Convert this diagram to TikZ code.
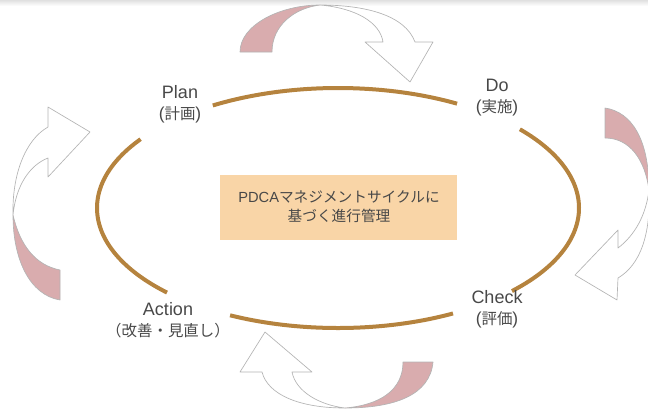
\documentclass[tikz,border=0pt]{standalone}
\usepackage{fontspec}
\setmainfont{Noto Sans CJK JP}
\newfontfamily\latf{Liberation Sans}
\definecolor{ellbrown}{RGB}{181,131,62}
\definecolor{pinkface}{RGB}{217,172,174}
\definecolor{boxfill}{RGB}{249,213,167}
\definecolor{txtgray}{RGB}{72,72,72}
\definecolor{arrowline}{RGB}{180,180,180}
\newcommand{\biglat}[1]{{\latf\fontsize{13.5pt}{15pt}\selectfont #1}}
\newcommand{\halfp}[1]{{\latf\fontsize{13pt}{15pt}\selectfont(}#1{\latf\fontsize{13pt}{15pt}\selectfont)}}
\tikzset{
  arrowback/.style={fill=pinkface, draw=arrowline, line width=0.5pt, line join=round},
  arrowfront/.style={fill=white, draw=arrowline, line width=0.5pt, line join=round},
  ring/.style={draw=ellbrown, line width=3pt},
  lab/.style={align=center, text=txtgray, inner sep=0pt, font=\fontsize{11.6pt}{15.8pt}\selectfont},
  centerbox/.style={fill=boxfill, minimum width=177.75pt, minimum height=48.75pt, inner sep=0pt},
  centertext/.style={align=center, text=txtgray, inner sep=0pt, font=\fontsize{11pt}{14.2pt}\selectfont}
}
\begin{document}
\begin{tikzpicture}[x=0.75pt, y=-0.75pt]
\useasboundingbox (0,0) rectangle (648,411);
\clip (0,0) rectangle (648,411);
% faint top band
\shade[top color=black!12, bottom color=white] (0,0) rectangle (648,6);

% ring arcs (ellipse centre 338,208; rx 241, ry 120)
\draw[ring] plot[domain=60.4:121.3, samples=60, smooth] ({338+241*cos(\x)},{208-120*sin(\x)});
\draw[ring] plot[domain=145:224.8, samples=60, smooth] ({338+241*cos(\x)},{208-120*sin(\x)});
\draw[ring] plot[domain=243.4:298.5, samples=60, smooth] ({338+241*cos(\x)},{208-120*sin(\x)});
\draw[ring] plot[domain=316.2:401, samples=80, smooth] ({338+241*cos(\x)},{208-120*sin(\x)});

% centre box
\node[centerbox] (core) at (338.5,207.5) {};
\node[centertext] (coretext) at (339,207) {{\latf PDCA}マネジメントサイクルに\\基づく進行管理};

% labels
\node[lab] (plan) at (180,104) {\biglat{Plan}\\\halfp{計画}};
\node[lab] (do) at (497,98) {\biglat{Do}\\\halfp{実施}};
\node[lab] (check) at (497,309) {\biglat{Check}\\\halfp{評価}};
\node[lab] (action) at (168,320) {\biglat{Action}\\（改善・見直し）};

% top curved arrow (Plan -> Do)
\draw[arrowback] (240,52) .. controls (240,25) and (280,5) .. (320,5)
  .. controls (295,8) and (272,25) .. (272,52) -- cycle;
\draw[arrowfront] (320,5) .. controls (365,5) and (405,15) .. (415,42)
  -- (433,42) -- (410,82) -- (365,42) -- (383,42)
  .. controls (380,22) and (355,8) .. (320,5) -- cycle;

% right curved arrow (Do -> Check)
\draw[arrowback] (605,108) .. controls (632,112) and (649,140) .. (649,190)
  .. controls (645,160) and (630,138) .. (605,138) -- cycle;
\draw[arrowfront] (649,190) .. controls (651,235) and (640,265) .. (618,278)
  -- (617,300) -- (575,275) -- (618,230) -- (618,248)
  .. controls (635,235) and (646,215) .. (649,190) -- cycle;

% bottom curved arrow (Check -> Action)
\draw[arrowback] (345,408) .. controls (395,408) and (430,395) .. (433,362)
  -- (403,362) .. controls (403,390) and (380,405) .. (345,408) -- cycle;
\draw[arrowfront] (345,408) .. controls (300,408) and (268,395) .. (262,372)
  -- (240,372) -- (265,332) -- (312,372) -- (292,372)
  .. controls (296,392) and (320,405) .. (345,408) -- cycle;

% left curved arrow (Action -> Plan)
\draw[arrowback] (13,215) .. controls (13,260) and (30,295) .. (60,300)
  -- (60,270) .. controls (35,265) and (20,245) .. (13,215) -- cycle;
\draw[arrowfront] (13,215) .. controls (12,175) and (25,140) .. (48,127)
  -- (48,107) -- (90,132) -- (48,177) -- (48,158)
  .. controls (30,165) and (16,185) .. (13,215) -- cycle;
\end{tikzpicture}
\end{document}
